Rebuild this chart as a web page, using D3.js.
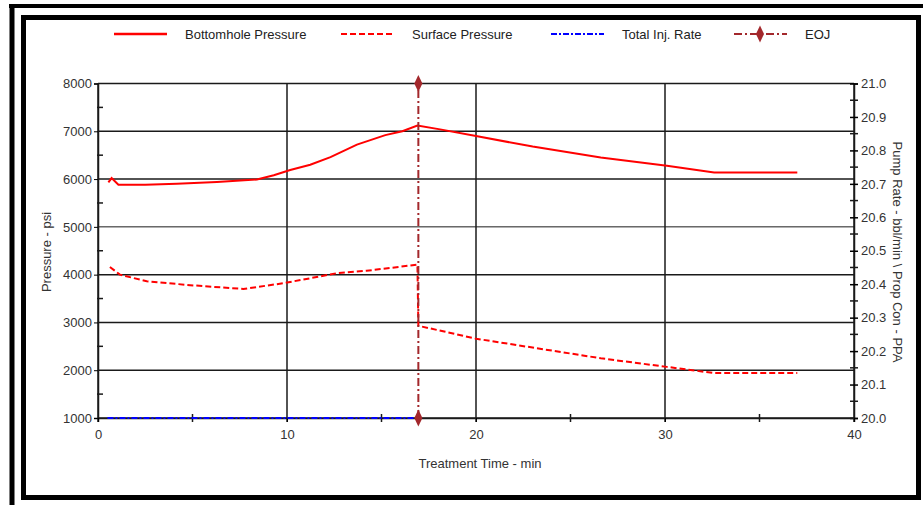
<!DOCTYPE html>
<html><head><meta charset="utf-8">
<script src="https://cdn.jsdelivr.net/npm/d3@7"></script>
<style>
html,body{margin:0;padding:0;background:#fff;}
text{font-family:"Liberation Sans",Arial,sans-serif;}
</style></head>
<body><svg id="c" width="923" height="505"></svg>
<script>
// ---- data ----
const bhpTime = [0.55, 0.72, 1.08, 2.5, 4.17, 6.29, 8.41, 9.3, 10.17, 11.23, 12.3, 13.7, 15.2, 16.1, 16.9, 18.1, 20.0, 23.0, 26.6, 30.1, 32.6, 37.0];
const bhpVal  = [5930, 6020, 5880, 5880, 5900, 5940, 5990, 6080, 6190, 6300, 6460, 6720, 6920, 7000, 7120, 7040, 6900, 6680, 6450, 6280, 6140, 6140];
const surfTime = [0.63, 1.16, 2.58, 4.87, 7.69, 9.8, 11.57, 12.63, 14.2, 16.9, 16.95, 20.0, 26.6, 30.1, 32.6, 37.0];
const surfVal  = [4160, 4000, 3860, 3780, 3700, 3820, 3950, 4030, 4080, 4210, 2930, 2660, 2250, 2070, 1940, 1940];
const rateTime = [0.5, 16.9];
const rateVal  = [20.0, 20.0];
const eojTime = [16.95, 16.95];
const eojVal  = [20.0, 21.0];
const xTicks = [0, 10, 20, 30, 40];
const xMinor = [5, 15, 25, 35];
const yLeftTicks = [1000, 2000, 3000, 4000, 5000, 6000, 7000, 8000];
const yLeftMinor = [1500, 2500, 3500, 4500, 5500, 6500, 7500];
const yRightTicks = [20.0, 20.1, 20.2, 20.3, 20.4, 20.5, 20.6, 20.7, 20.8, 20.9, 21.0];
const yRightMinor = [20.05, 20.15, 20.25, 20.35, 20.45, 20.55, 20.65, 20.75, 20.85, 20.95];
const legendNames = ["Bottomhole Pressure", "Surface Pressure", "Total Inj. Rate", "EOJ"];

const svg = d3.select("#c");
const L = 98, R = 854, T = 83.5, B = 418;
const x = d3.scaleLinear().domain([0, 40]).range([L, R]);
const yL = d3.scaleLinear().domain([1000, 8000]).range([B, T]);
const yR = d3.scaleLinear().domain([20, 21]).range([B, T]);

// frames
svg.append("line").attr("x1", 9).attr("x2", 923).attr("y1", 6).attr("y2", 6).attr("stroke", "#000").attr("stroke-width", 4);
svg.append("line").attr("x1", 12).attr("x2", 12).attr("y1", 4).attr("y2", 505).attr("stroke", "#000").attr("stroke-width", 5);
svg.append("rect").attr("x", 23.5).attr("y", 17.5).attr("width", 895).attr("height", 480)
  .attr("fill", "none").attr("stroke", "#000").attr("stroke-width", 5);

// grid
const g = svg.append("g");
g.selectAll(".hg").data(yLeftTicks).enter().append("line")
  .attr("x1", L).attr("x2", R).attr("y1", d => yL(d)).attr("y2", d => yL(d))
  .attr("stroke", "#1a1a1a").attr("stroke-width", d => d === 5000 ? 1 : 1.5);
g.selectAll(".vg").data(xTicks).enter().append("line")
  .attr("y1", T).attr("y2", B + 4).attr("x1", d => x(d)).attr("x2", d => x(d))
  .attr("stroke", "#1a1a1a").attr("stroke-width", 1.5);

// left axis
const axL = d3.axisLeft(yL).tickValues(yLeftTicks).tickSize(4).tickPadding(2).tickFormat(d3.format("d"));
const gL = svg.append("g").attr("transform", `translate(${L},0)`).call(axL);
gL.select(".domain").attr("stroke", "#1a1a1a").attr("stroke-width", 1.5);
gL.selectAll("text").attr("font-size", 13).attr("fill", "#333");
g.selectAll(".lm").data(yLeftMinor).enter().append("line")
  .attr("x1", L - 1).attr("x2", L + 5).attr("y1", d => yL(d)).attr("y2", d => yL(d))
  .attr("stroke", "#1a1a1a").attr("stroke-width", 1.5);

// right axis
const axR = d3.axisRight(yR).tickValues(yRightTicks).tickSize(4).tickPadding(3).tickFormat(d3.format(".1f"));
const gR = svg.append("g").attr("transform", `translate(${R},0)`).call(axR);
gR.select(".domain").attr("stroke", "#1a1a1a").attr("stroke-width", 1.5);
gR.selectAll(".tick line").attr("x1", -4).attr("stroke-width", 1.5);
gR.selectAll("text").attr("font-size", 13).attr("fill", "#333");
g.selectAll(".rm").data(yRightMinor).enter().append("line")
  .attr("x1", R - 4).attr("x2", R + 4).attr("y1", d => yR(d)).attr("y2", d => yR(d))
  .attr("stroke", "#1a1a1a").attr("stroke-width", 1.5);

// bottom axis
const axB = d3.axisBottom(x).tickValues(xTicks).tickSize(4).tickPadding(8).tickFormat(d3.format("d"));
const gB = svg.append("g").attr("transform", `translate(0,${B})`).call(axB);
gB.select(".domain").attr("stroke", "#1a1a1a").attr("stroke-width", 1.5);
gB.selectAll("text").attr("font-size", 13).attr("fill", "#333");
g.selectAll(".bm").data(xMinor).enter().append("line")
  .attr("y1", B - 4).attr("y2", B + 4).attr("x1", d => x(d)).attr("x2", d => x(d))
  .attr("stroke", "#1a1a1a").attr("stroke-width", 1.5);

// axis titles
svg.append("text").attr("x", 480).attr("y", 468).attr("text-anchor", "middle")
  .attr("font-size", 13).attr("fill", "#333").text("Treatment Time - min");
svg.append("text").attr("transform", "translate(51,252) rotate(-90)").attr("text-anchor", "middle")
  .attr("font-size", 13).attr("fill", "#333").text("Pressure - psi");
svg.append("text").attr("transform", "translate(893,252) rotate(90)").attr("text-anchor", "middle")
  .attr("font-size", 13).attr("fill", "#333").text("Pump Rate - bbl/min \\ Prop Con - PPA");

// series
const lineL = d3.line().x(d => x(d[0])).y(d => yL(d[1]));
const lineR = d3.line().x(d => x(d[0])).y(d => yR(d[1]));
const bhp = bhpTime.map((t, i) => [t, bhpVal[i]]);
const surf = surfTime.map((t, i) => [t, surfVal[i]]);
const rate = rateTime.map((t, i) => [t, rateVal[i]]);
const eoj = eojTime.map((t, i) => [t, eojVal[i]]);

const red = "#ff0000", blue = "#0000ff", eojC = "#a3282c";
svg.append("path").attr("d", lineL(bhp)).attr("fill", "none").attr("stroke", red).attr("stroke-width", 2);
svg.append("path").attr("d", lineL(surf)).attr("fill", "none").attr("stroke", red).attr("stroke-width", 2).attr("stroke-dasharray", "6,3");
svg.append("path").attr("d", lineR(rate)).attr("fill", "none").attr("stroke", blue).attr("stroke-width", 2).attr("stroke-dasharray", "6,2,2,2");
svg.append("path").attr("d", lineR(eoj)).attr("fill", "none").attr("stroke", eojC).attr("stroke-width", 2).attr("stroke-dasharray", "8,3,2,3");
const diamond = d3.symbol().type(d3.symbolDiamond).size(70);
svg.selectAll(".eojm").data(eoj).enter().append("path")
  .attr("d", diamond).attr("transform", d => `translate(${x(d[0])},${yR(d[1])}) scale(0.9,1.1)`).attr("fill", eojC);

// legend
const legX = [114, 341, 551, 734];
const legTextX = [185, 412, 622, 805];
const legY = 34;
const lg = svg.append("g");
const styles = [
  {c: red, dash: null},
  {c: red, dash: "6,3"},
  {c: blue, dash: "6,2,2,2"},
  {c: eojC, dash: "8,3,2,3"}
];
legendNames.forEach((name, i) => {
  lg.append("line").attr("x1", legX[i]).attr("x2", legX[i] + 53).attr("y1", legY).attr("y2", legY)
    .attr("stroke", styles[i].c).attr("stroke-width", i === 0 ? 2.5 : 2).attr("stroke-dasharray", styles[i].dash);
  lg.append("text").attr("x", legTextX[i]).attr("y", legY + 4.5).attr("font-size", 13).attr("fill", "#222").text(name);
});
lg.append("path").attr("d", diamond).attr("transform", `translate(${legX[3] + 26},${legY}) scale(0.9,1.1)`).attr("fill", eojC);
</script></body></html>
